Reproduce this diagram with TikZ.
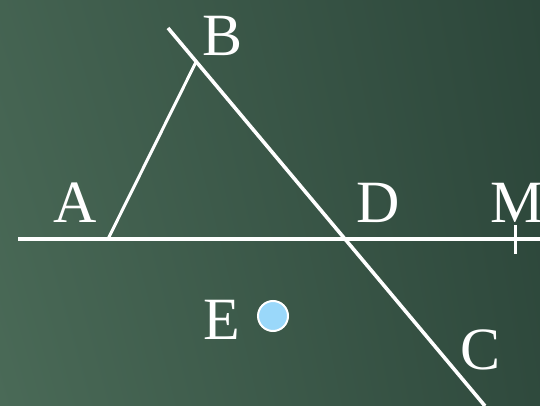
\documentclass[tikz,border=0pt]{standalone}
\usepackage{fontspec}
\setmainfont{Liberation Serif}
\usepackage{xcolor}
\usetikzlibrary{positioning,shadings}

\definecolor{boardlight}{HTML}{4A6A57}
\definecolor{boarddark}{HTML}{2C463A}
\definecolor{dotblue}{HTML}{9AD8FA}

\begin{document}
\begin{tikzpicture}[
    x=1pt, y=-1pt,
    seg/.style={draw=white, line width=3.6pt},
    lbl/.style={text=white, font=\fontsize{60}{60}\selectfont, inner sep=0pt},
    dot/.style={circle, fill=dotblue, draw=white, line width=2pt, minimum size=30pt, inner sep=0pt}
  ]
    % chalkboard background
    \shade[lower left=boardlight, lower right=boarddark!90!boardlight,
           upper left=boardlight!80!boarddark, upper right=boarddark]
      (0,0) rectangle (540,406);
    \useasboundingbox (0,0) rectangle (540,406);

    \coordinate (A) at (108,239);
    \coordinate (B) at (196,62);
    \coordinate (D) at (345,239);
    \coordinate (M) at (515,239);
    \coordinate (lineL) at (18,239);
    \coordinate (lineR) at (540,239);
    \coordinate (rayTop) at (168,28);
    \coordinate (rayEnd) at (485,406);
    \coordinate (Mtop) at (515,225);
    \coordinate (Mbot) at (515,254);

    \draw[seg] (lineL) -- (lineR);
    \draw[seg] (rayTop) -- (rayEnd);
    \draw[seg, line width=3pt] (A) -- (B);
    \draw[seg, line width=3pt] (Mtop) -- (Mbot);

    \node[dot] (Edot) at (273,316) {};

    \node[lbl] (labA) at (75,203) {A};
    \node[lbl] (labB) at (223,36) {B};
    \node[lbl] (labD) at (378,203) {D};
    \node[lbl] (labM) at (517,203) {M};
    \node[lbl] (labE) at (222,320) {E};
    \node[lbl] (labC) at (481,350) {C};
  \end{tikzpicture}
\end{document}
